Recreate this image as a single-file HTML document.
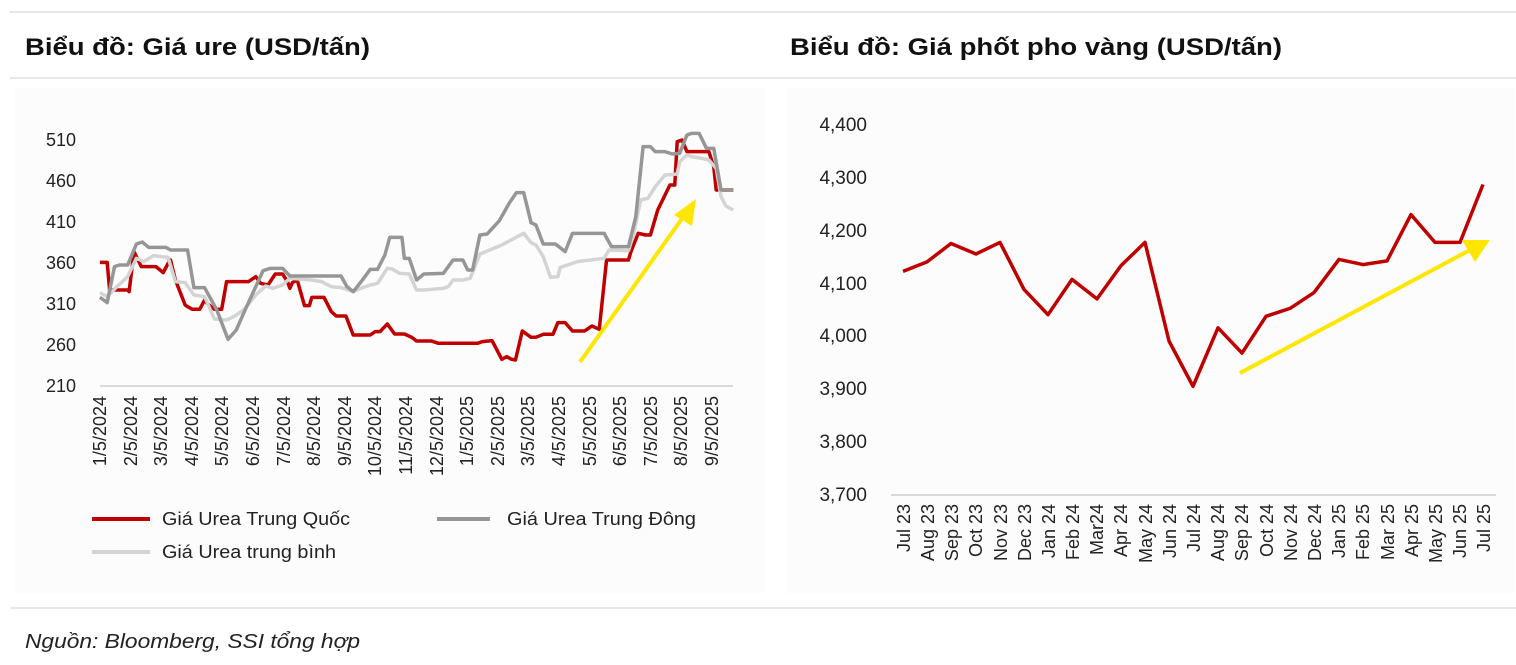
<!DOCTYPE html>
<html><head><meta charset="utf-8"><style>
body{margin:0;background:#fff;}
svg{display:block;font-family:"Liberation Sans",sans-serif;}
</style></head><body>
<svg width="1516" height="665" viewBox="0 0 1516 665" xmlns="http://www.w3.org/2000/svg">
<rect width="1516" height="665" fill="#fff"/>
<line x1="10" y1="12" x2="1516" y2="12" stroke="#d0d0d0"/>
<line x1="10" y1="78" x2="1516" y2="78" stroke="#d0d0d0"/>
<line x1="10" y1="608" x2="1516" y2="608" stroke="#d0d0d0"/>
<text x="25" y="55" font-size="24" font-weight="bold" fill="#111" textLength="345" lengthAdjust="spacingAndGlyphs">Biểu đồ: Giá ure (USD/tấn)</text>
<text x="790" y="55" font-size="24" font-weight="bold" fill="#111" textLength="492" lengthAdjust="spacingAndGlyphs">Biểu đồ: Giá phốt pho vàng (USD/tấn)</text>
<text x="25" y="648" font-size="20" font-style="italic" fill="#222" textLength="335" lengthAdjust="spacingAndGlyphs">Nguồn: Bloomberg, SSI tổng hợp</text>
<rect x="15" y="88" width="750" height="505" fill="#fcfcfc"/>
<rect x="786" y="88" width="728" height="505" fill="#fcfcfc"/>

<!-- left chart -->
<g font-size="18" fill="#222" text-anchor="end">
<text x="76" y="146">510</text><text x="76" y="187">460</text><text x="76" y="228">410</text>
<text x="76" y="269">360</text><text x="76" y="310">310</text><text x="76" y="351">260</text><text x="76" y="392">210</text>
</g>
<line x1="100" y1="386" x2="733" y2="386" stroke="#d9d9d9" stroke-width="2"/>
<g font-size="18" fill="#222" text-anchor="end">
<text transform="translate(106,396) rotate(-90)">1/5/2024</text>
<text transform="translate(137,396) rotate(-90)">2/5/2024</text>
<text transform="translate(167,396) rotate(-90)">3/5/2024</text>
<text transform="translate(198,396) rotate(-90)">4/5/2024</text>
<text transform="translate(228,396) rotate(-90)">5/5/2024</text>
<text transform="translate(259,396) rotate(-90)">6/5/2024</text>
<text transform="translate(290,396) rotate(-90)">7/5/2024</text>
<text transform="translate(320,396) rotate(-90)">8/5/2024</text>
<text transform="translate(351,396) rotate(-90)">9/5/2024</text>
<text transform="translate(381,396) rotate(-90)">10/5/2024</text>
<text transform="translate(412,396) rotate(-90)">11/5/2024</text>
<text transform="translate(443,396) rotate(-90)">12/5/2024</text>
<text transform="translate(473,396) rotate(-90)">1/5/2025</text>
<text transform="translate(504,396) rotate(-90)">2/5/2025</text>
<text transform="translate(534,396) rotate(-90)">3/5/2025</text>
<text transform="translate(565,396) rotate(-90)">4/5/2025</text>
<text transform="translate(596,396) rotate(-90)">5/5/2025</text>
<text transform="translate(626,396) rotate(-90)">6/5/2025</text>
<text transform="translate(657,396) rotate(-90)">7/5/2025</text>
<text transform="translate(687,396) rotate(-90)">8/5/2025</text>
<text transform="translate(718,396) rotate(-90)">9/5/2025</text>
</g>
<g transform="translate(0,100) scale(0.4872,0.3333)" fill="none" stroke-linejoin="round">
<polyline vector-effect="non-scaling-stroke" stroke="#c00000" stroke-width="3.5" points="205,487 220,487 225,570 240,570 262,570 265,575 275,455 290,500 320,500 335,518 345,490 350,480 360,540 380,615 385,620 395,628 410,628 420,600 425,610 440,628 455,628 465,545 510,545 525,530 535,550 550,555 565,522 580,522 590,545 595,565 600,548 610,540 625,617 635,617 640,592 665,592 680,635 690,648 710,648 725,705 760,705 770,695 780,695 795,672 810,702 830,702 845,712 855,723 885,723 900,730 980,730 990,725 1010,722 1030,778 1040,770 1050,778 1058,780 1072,693 1090,712 1100,712 1115,703 1135,703 1145,668 1160,668 1175,693 1200,693 1215,678 1230,688 1245,480 1290,480 1295,455 1310,400 1325,405 1335,405 1350,330 1365,285 1375,255 1385,255 1390,125 1400,120 1410,155 1455,155 1465,200 1470,270 1505,270"/>
<polyline vector-effect="non-scaling-stroke" stroke="#d4d4d4" stroke-width="3.5" points="205,578 220,590 240,560 262,530 280,475 295,485 315,467 330,470 345,472 360,545 380,548 398,585 420,590 440,657 465,660 480,650 500,630 525,585 545,558 560,565 580,555 595,535 640,540 660,545 680,560 700,563 725,575 740,565 760,555 775,550 795,505 805,507 820,520 840,522 855,570 870,570 910,565 920,560 930,540 950,540 965,535 985,462 1030,435 1045,423 1075,400 1090,428 1100,435 1115,470 1130,532 1145,530 1150,502 1165,495 1185,485 1240,475 1250,450 1290,452 1300,405 1315,300 1330,295 1345,260 1365,225 1390,222 1395,185 1410,165 1420,170 1440,175 1455,180 1470,205 1480,290 1490,318 1505,330"/>
<polyline vector-effect="non-scaling-stroke" stroke="#969696" stroke-width="3.5" points="205,592 220,608 235,500 245,495 262,495 280,432 292,426 305,442 340,442 350,450 385,450 398,563 420,563 430,590 445,630 468,718 485,690 500,640 525,560 540,512 555,505 580,505 595,528 700,528 712,560 725,575 745,538 760,508 775,508 790,465 800,412 825,412 830,475 840,475 855,540 870,522 910,520 930,480 950,480 960,510 970,510 985,405 1000,402 1025,362 1045,310 1060,278 1075,278 1090,368 1100,375 1115,432 1140,432 1160,455 1175,400 1240,400 1255,440 1290,440 1305,350 1320,140 1335,140 1345,155 1365,155 1380,162 1395,160 1410,105 1420,100 1435,100 1450,145 1465,145 1480,270 1505,270"/>
</g>
<line x1="580" y1="362" x2="686" y2="213" stroke="#ffe600" stroke-width="4"/>
<polygon points="696,199 674,215 692,226" fill="#ffe600"/>
<g font-size="18" fill="#222">
<line x1="92" y1="519" x2="150" y2="519" stroke="#c00000" stroke-width="4"/>
<text x="162" y="525" textLength="188" lengthAdjust="spacingAndGlyphs">Giá Urea Trung Quốc</text>
<line x1="437" y1="519" x2="490" y2="519" stroke="#969696" stroke-width="4"/>
<text x="507" y="525" textLength="189" lengthAdjust="spacingAndGlyphs">Giá Urea Trung Đông</text>
<line x1="92" y1="552" x2="150" y2="552" stroke="#d4d4d4" stroke-width="4"/>
<text x="162" y="558" textLength="174" lengthAdjust="spacingAndGlyphs">Giá Urea trung bình</text>
</g>

<!-- right chart -->
<g font-size="19" fill="#222" text-anchor="end">
<text x="867" y="131">4,400</text><text x="867" y="184">4,300</text><text x="867" y="237">4,200</text>
<text x="867" y="290">4,100</text><text x="867" y="342">4,000</text><text x="867" y="395">3,900</text>
<text x="867" y="448">3,800</text><text x="867" y="501">3,700</text>
</g>
<line x1="891" y1="495" x2="1496" y2="495" stroke="#d9d9d9" stroke-width="2"/>
<g font-size="18" fill="#222" text-anchor="end">
<text transform="translate(910,504) rotate(-90)">Jul 23</text>
<text transform="translate(934,504) rotate(-90)">Aug 23</text>
<text transform="translate(958,504) rotate(-90)">Sep 23</text>
<text transform="translate(982,504) rotate(-90)">Oct 23</text>
<text transform="translate(1007,504) rotate(-90)">Nov 23</text>
<text transform="translate(1031,504) rotate(-90)">Dec 23</text>
<text transform="translate(1055,504) rotate(-90)">Jan 24</text>
<text transform="translate(1079,504) rotate(-90)">Feb 24</text>
<text transform="translate(1103,504) rotate(-90)">Mar24</text>
<text transform="translate(1127,504) rotate(-90)">Apr 24</text>
<text transform="translate(1152,504) rotate(-90)">May 24</text>
<text transform="translate(1176,504) rotate(-90)">Jun 24</text>
<text transform="translate(1200,504) rotate(-90)">Jul 24</text>
<text transform="translate(1224,504) rotate(-90)">Aug 24</text>
<text transform="translate(1248,504) rotate(-90)">Sep 24</text>
<text transform="translate(1273,504) rotate(-90)">Oct 24</text>
<text transform="translate(1297,504) rotate(-90)">Nov 24</text>
<text transform="translate(1321,504) rotate(-90)">Dec 24</text>
<text transform="translate(1345,504) rotate(-90)">Jan 25</text>
<text transform="translate(1369,504) rotate(-90)">Feb 25</text>
<text transform="translate(1394,504) rotate(-90)">Mar 25</text>
<text transform="translate(1418,504) rotate(-90)">Apr 25</text>
<text transform="translate(1442,504) rotate(-90)">May 25</text>
<text transform="translate(1466,504) rotate(-90)">Jun 25</text>
<text transform="translate(1490,504) rotate(-90)">Jul 25</text>
</g>
<polyline fill="none" stroke="#c00000" stroke-width="3.5" stroke-linejoin="round" points="903,271.4 927,261.9 951,243.5 976,254 1000,242.4 1024,289.4 1048,314.7 1072,279.4 1097,298.9 1121,265.6 1145,242.4 1169,341 1193,386.3 1218,327.8 1242,353.1 1266,316.3 1290,308.4 1314,292.6 1339,259.4 1363,264.6 1387,260.9 1411,214.6 1435,242.4 1460,242.4 1483,184.5"/>
<line x1="1240" y1="373" x2="1470" y2="250" stroke="#ffe600" stroke-width="4"/>
<polygon points="1490,240 1462,240 1475,262" fill="#ffe600"/>
</svg>
</body></html>
